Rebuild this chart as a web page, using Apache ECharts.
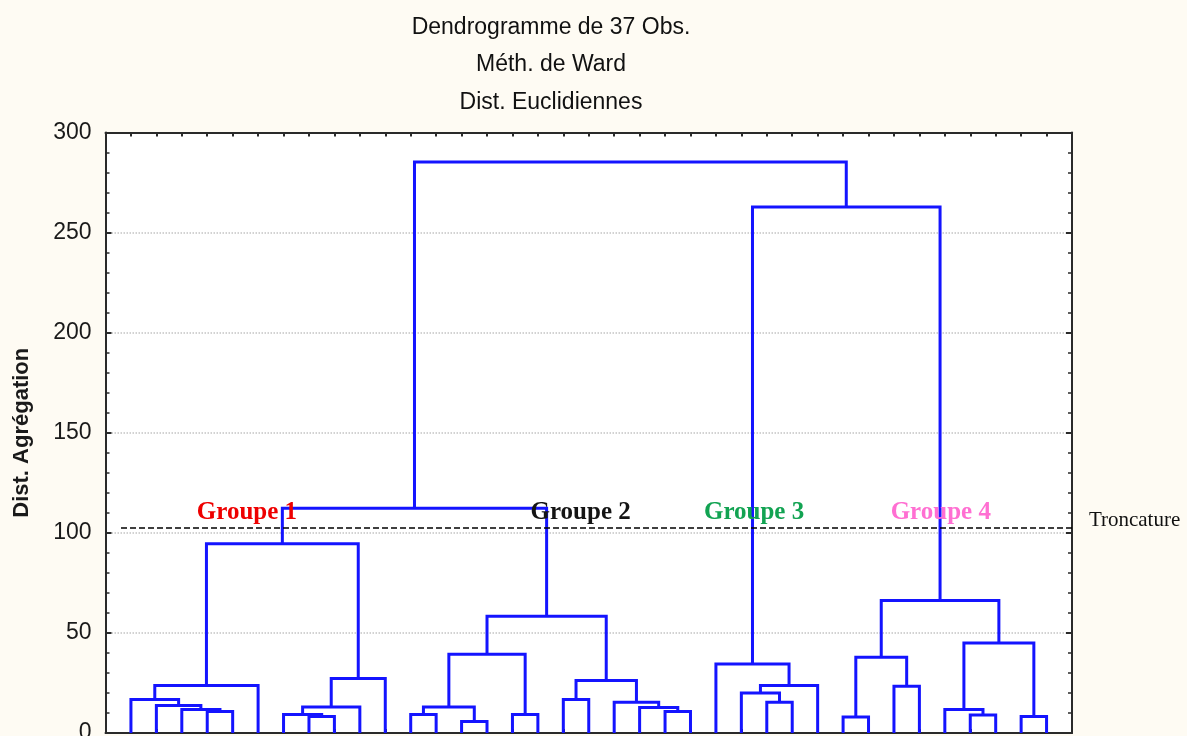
<!DOCTYPE html>
<html><head><meta charset="utf-8">
<script src="https://cdn.jsdelivr.net/npm/echarts@6/dist/echarts.min.js"></script>
<style>html,body{margin:0;padding:0;background:#fefbf3}#c{width:1187px;height:736px}</style>
</head><body><div id="c"></div>
<script>
// ---- data ----
const leafCount = 37;
// merge k creates cluster id leafCount + k
const mergeLeft   = [3, 2, 1, 0, 40, 7, 6, 43, 44, 41, 11, 13, 47, 15, 49, 17, 21, 20, 19, 52, 51, 46, 25, 24, 60, 23, 28, 30, 63, 33, 32, 35, 67, 65, 62, 58];
const mergeRight  = [4, 37, 38, 39, 5, 8, 42, 9, 10, 45, 12, 14, 48, 16, 50, 18, 22, 53, 54, 55, 56, 57, 26, 59, 27, 61, 29, 31, 64, 34, 66, 36, 68, 69, 70, 71];
const mergeHeight = [10.8, 11.7, 13.7, 16.7, 23.7, 8.3, 9.3, 13, 27.2, 94.5, 9.3, 5.8, 13, 9.3, 39.3, 16.7, 10.7, 12.7, 15.3, 26.2, 58.3, 112.3, 15.3, 20, 23.7, 34.5, 8, 23.3, 37.8, 9, 11.8, 8.2, 45, 66.2, 262.8, 285.3];
const yTickValues = [0, 50, 100, 150, 200, 250, 300];
const truncationHeight = 102.4;
const groupNames = ['Groupe 1', 'Groupe 2', 'Groupe 3', 'Groupe 4'];
const titleLines = ['Dendrogramme de 37 Obs.', 'Méth. de Ward', 'Dist. Euclidiennes'];
const yAxisTitle = 'Dist. Agrégation';
const truncationName = 'Troncature';

// ---- layout of the tree (in data units) ----
const nodeX = [], nodeH = [];
for (let i = 0; i < leafCount; i++) { nodeX.push(i); nodeH.push(0); }
const links = [];
for (let k = 0; k < mergeLeft.length; k++) {
  const a = mergeLeft[k], b = mergeRight[k], h = mergeHeight[k];
  links.push([nodeX[a], nodeH[a], nodeX[b], nodeH[b], h]);
  nodeX.push((nodeX[a] + nodeX[b]) / 2);
  nodeH.push(h);
}

const blue = '#1414ff';
const axisCol = '#2a2a2a';
const groupColors = ['#ee0000', '#141414', '#12a352', '#ff6fd2'];
const groupPos = [[4.56, 110], [17.68, 110], [24.5, 110], [31.84, 110]];

const chart = echarts.init(document.getElementById('c'), null, {renderer: 'canvas'});

const yAxisBase = {
  type: 'value', min: yTickValues[0], max: yTickValues[yTickValues.length - 1], interval: 50,
  axisLine: {show: true, onZero: false, lineStyle: {color: axisCol, width: 2}},
  axisTick: {show: true, inside: true, length: 6, lineStyle: {color: axisCol, width: 2}},
  minorTick: {show: true, splitNumber: 5, length: 4, lineStyle: {color: axisCol, width: 1.5}},
};
const xAxisBase = {
  type: 'value', min: -1, max: leafCount, interval: 1,
  axisLine: {show: true, onZero: false, lineStyle: {color: axisCol, width: 2}},
  axisTick: {show: true, inside: true, length: 4, lineStyle: {color: axisCol, width: 2}},
  axisLabel: {show: false}, splitLine: {show: false}
};

chart.setOption({
  backgroundColor: '#fefbf3',
  animation: false,
  title: titleLines.map((t, i) => ({
    text: t, left: 546, top: 11 + i * 37.5, textAlign: 'center',
    textStyle: {fontFamily: 'Liberation Sans, Arial, sans-serif', fontSize: 23, fontWeight: 'normal', color: '#111'}
  })),
  grid: {left: 105.5, right: 115, top: 132.5, bottom: 3, show: true, backgroundColor: '#ffffff', borderWidth: 0,
    containLabel: false, outerBoundsMode: 'none'},
  xAxis: [
    Object.assign({}, xAxisBase, {position: 'bottom'}),
    Object.assign({}, xAxisBase, {position: 'top'})
  ],
  yAxis: [
    Object.assign({}, yAxisBase, {
      position: 'left',
      name: yAxisTitle, nameLocation: 'middle', nameRotate: 90, nameGap: 73,
      nameTextStyle: {fontFamily: 'Liberation Sans, Arial, sans-serif', fontSize: 22, fontWeight: 'bold', color: '#1a1a1a'},
      axisLabel: {show: true, margin: 14, fontFamily: 'Liberation Sans, Arial, sans-serif', fontSize: 23, color: '#1a1a1a',
        formatter: v => yTickValues.indexOf(v) >= 0 ? String(v) : ''},
      splitLine: {show: true, lineStyle: {color: '#c4c4c4', type: 'dotted', width: 1.5}}
    }),
    Object.assign({}, yAxisBase, {position: 'right', axisLabel: {show: false}, splitLine: {show: false}})
  ],
  series: [
    {
      type: 'custom',
      xAxisIndex: 0, yAxisIndex: 0,
      data: links,
      clip: false,
      renderItem: function (params, api) {
        const p1 = api.coord([api.value(0), api.value(1)]);
        const p2 = api.coord([api.value(0), api.value(4)]);
        const p3 = api.coord([api.value(2), api.value(4)]);
        const p4 = api.coord([api.value(2), api.value(3)]);
        return {
          type: 'polyline',
          shape: {points: [p1, p2, p3, p4]},
          style: {stroke: blue, lineWidth: 3, fill: null, lineJoin: 'miter'}
        };
      },
      z: 2
    },
    {
      type: 'line',
      xAxisIndex: 0, yAxisIndex: 0,
      data: [],
      silent: true,
      markLine: {
        silent: true, symbol: 'none',
        lineStyle: {color: '#000', type: [6, 3], width: 1.5, opacity: 1},
        label: {show: false},
        data: [[{coord: [-0.39, truncationHeight]}, {coord: [leafCount, truncationHeight]}]]
      },
      z: 3
    },
    {
      type: 'scatter',
      xAxisIndex: 0, yAxisIndex: 0,
      symbolSize: 0, clip: false, silent: true,
      itemStyle: {opacity: 1},
      data: groupNames.map((g, i) => ({
        value: groupPos[i], name: g,
        label: {show: true, position: 'inside', formatter: g, opacity: 1,
          fontFamily: 'Liberation Serif, Times New Roman, serif', fontWeight: 'bold', fontSize: 25, color: groupColors[i]}
      })).concat([{
        value: [39.46, 106.3], name: truncationName,
        label: {show: true, position: 'inside', formatter: truncationName, opacity: 1,
          fontFamily: 'Liberation Serif, Times New Roman, serif', fontWeight: 'normal', fontSize: 21, color: '#111'}
      }]),
      z: 5
    }
  ]
});
</script></body></html>
